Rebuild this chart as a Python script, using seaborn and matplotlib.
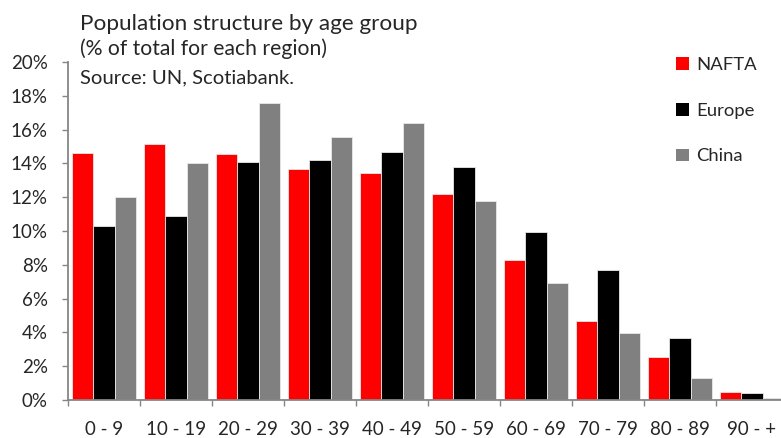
import matplotlib
matplotlib.use("Agg")
import matplotlib.pyplot as plt
import seaborn as sns
import pandas as pd
from matplotlib.patches import Patch
from matplotlib.ticker import FuncFormatter, FixedLocator

age_groups = ["0 - 9", "10 - 19", "20 - 29", "30 - 39", "40 - 49",
              "50 - 59", "60 - 69", "70 - 79", "80 - 89", "90 - +"]
regions = ["NAFTA", "Europe", "China"]
nafta = [14.63, 15.17, 14.58, 13.65, 13.45, 12.19, 8.28, 4.69, 2.52, 0.45]
europe = [10.31, 10.89, 14.06, 14.18, 14.67, 13.77, 9.92, 7.69, 3.69, 0.41]
china = [12.01, 14.00, 17.55, 15.58, 16.37, 11.79, 6.92, 3.96, 1.30, 0.12]
colors = ["#ff0000", "#000000", "#808080"]

df = pd.DataFrame({
    "age": age_groups * 3,
    "region": [r for r in regions for _ in age_groups],
    "share": nafta + europe + china,
})

sns.set_style("white")
plt.rcParams["font.family"] = ["Lato", "DejaVu Sans"]

W, H = 781, 438
fig = plt.figure(figsize=(W / 100, H / 100), dpi=100)
ax = fig.add_axes([68 / W, 38 / H, 720 / W, 338 / H])

sns.barplot(data=df, x="age", y="share", hue="region", hue_order=regions,
            palette=colors, width=0.89, gap=0, ax=ax, legend=False,
            edgecolor="#e8e8e8", linewidth=0.6, saturation=1)

ax.set_ylim(0, 20)
ax.set_xlim(-0.5, 9.5)
ax.set_yticks(range(0, 21, 2))
ax.yaxis.set_major_formatter(FuncFormatter(lambda v, _: f"{v:.0f}%"))
ax.set_xlabel("")
ax.set_ylabel("")

for side in ["top", "right"]:
    ax.spines[side].set_visible(False)
for side in ["left", "bottom"]:
    ax.spines[side].set_color("#868686")
    ax.spines[side].set_linewidth(1.3)

ax.tick_params(axis="y", which="major", direction="out", length=4.5, width=1,
               color="#868686", labelsize=13.5, pad=10, left=True)
ax.xaxis.set_minor_locator(FixedLocator([i - 0.5 for i in range(11)]))
ax.tick_params(axis="x", which="minor", direction="out", length=4.5, width=1,
               color="#868686", bottom=True)
ax.tick_params(axis="x", which="major", length=0, labelsize=13.5, pad=15)

fig.text(80 / W, 1 - 30 / H, "Population structure by age group",
         fontsize=16.2, va="baseline", ha="left")
fig.text(80 / W, 1 - 55 / H, "(% of total for each region)",
         fontsize=15.2, va="baseline", ha="left")
fig.text(80 / W, 1 - 83 / H, "Source: UN, Scotiabank.",
         fontsize=14.6, va="baseline", ha="left")

handles = [Patch(facecolor=c, edgecolor="none", label=r) for c, r in zip(colors, regions)]
fig.legend(handles=handles, loc="upper left", bbox_to_anchor=(659 / W, 1 - 40 / H),
           frameon=False, fontsize=13.3, handlelength=0.7, handleheight=0.7,
           handletextpad=0.4, labelspacing=1.62)

fig.savefig("out.png", dpi=100)
